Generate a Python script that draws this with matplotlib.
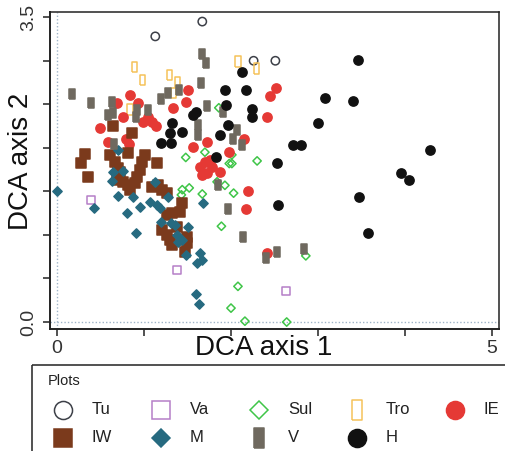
import matplotlib
matplotlib.use("Agg")
import matplotlib.pyplot as plt
from matplotlib.patches import Rectangle
from matplotlib.ticker import FixedLocator, FixedFormatter

plt.rcParams['font.family'] = ['Liberation Sans', 'DejaVu Sans']

# DCA scores, one pair of lists per plot group
tu_x = [1.13, 1.67, 2.26, 2.51]
tu_y = [3.28, 3.45, 3.00, 3.00]

va_x = [0.39, 1.38, 2.63]
va_y = [1.40, 0.60, 0.36]

sul_x = [1.86, 1.48, 1.70, 1.98, 2.01, 2.01, 2.30, 1.44, 1.52, 1.43, 1.67,
         1.84, 1.93, 2.03, 1.89, 2.08, 2.00, 2.16, 2.64, 2.86]
sul_y = [2.46, 1.89, 1.95, 1.82, 1.82, 1.92, 1.85, 1.52, 1.54, 1.46, 1.47,
         1.61, 1.57, 1.48, 1.10, 0.41, 0.16, 0.01, 0.00, 0.76]

tro_x = [0.89, 0.98, 1.29, 1.39, 1.34, 0.84, 2.08, 2.29]
tro_y = [2.93, 2.78, 2.84, 2.75, 2.63, 2.44, 2.99, 2.91]

ie_x = [0.84, 0.69, 0.93, 0.76, 0.49, 1.05, 0.99, 1.09, 1.14, 1.33, 1.48,
        1.51, 0.79, 0.83, 0.59, 1.56, 1.72, 2.15, 1.98, 2.52, 2.45, 2.41,
        1.64, 1.67, 1.70, 1.76, 1.78, 1.72, 1.87, 2.20, 2.17, 2.41]
ie_y = [2.61, 2.51, 2.51, 2.36, 2.23, 2.36, 2.30, 2.30, 2.25, 2.46, 2.53,
        2.67, 2.10, 2.05, 2.07, 2.01, 2.07, 2.10, 1.95, 2.69, 2.60, 2.36,
        1.78, 1.69, 1.84, 1.86, 1.78, 1.71, 1.72, 1.51, 1.30, 0.79]

iw_x = [0.64, 0.86, 0.32, 0.28, 0.36, 0.61, 0.67, 0.70, 0.72, 0.69, 0.76,
        0.82, 0.84, 0.90, 0.92, 0.95, 0.98, 1.01, 0.82, 1.15, 1.09, 1.16,
        1.21, 1.26, 1.26, 1.32, 1.41, 1.44, 1.21, 1.26, 1.30, 1.32, 1.49,
        1.49, 1.47, 1.38]
iw_y = [2.25, 2.17, 1.93, 1.83, 1.67, 1.92, 1.84, 1.77, 1.72, 1.63, 1.61,
        1.57, 1.52, 1.60, 1.67, 1.75, 1.84, 1.92, 1.94, 1.83, 1.55, 1.57,
        1.52, 1.48, 1.23, 1.25, 1.26, 1.37, 1.06, 1.00, 0.94, 0.89, 0.98,
        0.91, 0.80, 1.09]

m_x = [0.00, 0.43, 0.70, 0.64, 0.76, 0.63, 0.70, 0.87, 0.95, 0.80, 0.91,
       1.07, 1.15, 1.13, 1.20, 1.31, 1.28, 1.51, 1.38, 1.44, 1.39, 1.48,
       1.64, 1.61, 1.67, 1.68, 1.60, 1.63, 1.36, 1.18]
m_y = [1.51, 1.31, 1.98, 1.72, 1.74, 1.62, 1.45, 1.43, 1.32, 1.25, 1.02,
       1.38, 1.34, 1.61, 1.15, 1.14, 1.43, 1.09, 1.00, 0.94, 0.92, 0.77,
       0.79, 0.68, 0.71, 1.37, 0.32, 0.21, 1.11, 1.31]

v_x = [0.17, 0.39, 0.63, 0.59, 0.64, 0.92, 0.91, 1.05, 1.20, 1.28, 1.40,
       1.67, 1.71, 1.66, 1.72, 1.91, 1.62, 1.62, 2.07, 2.02, 2.13, 1.85,
       1.97, 2.14, 2.40, 2.53, 2.84, 0.66]
v_y = [2.62, 2.51, 2.53, 2.38, 2.40, 2.44, 2.36, 2.44, 2.56, 2.63, 2.66,
       3.08, 2.98, 2.75, 2.48, 2.41, 2.26, 2.15, 2.21, 2.10, 2.03, 1.57,
       1.30, 0.98, 0.74, 0.80, 0.84, 2.05]

h_x = [2.13, 1.93, 2.17, 1.94, 2.24, 2.24, 1.56, 1.60, 1.32, 1.30, 1.44,
       1.97, 1.87, 1.20, 1.31, 1.83, 3.46, 3.08, 3.40, 3.00, 2.71, 2.80,
       4.29, 2.53, 3.95, 4.05, 3.47, 3.57, 2.54]
h_y = [2.87, 2.67, 2.67, 2.49, 2.45, 2.36, 2.38, 2.41, 2.29, 2.17, 2.18,
       2.26, 2.15, 2.06, 2.06, 1.89, 3.01, 2.57, 2.54, 2.29, 2.03, 2.03,
       1.98, 1.83, 1.71, 1.63, 1.43, 1.02, 1.34]

tall_rect = [(-1, -2), (1, -2), (1, 2), (-1, 2), (-1, -2)]

groups = [
    # label, x, y, marker, face, edge, size, legend size
    ('Tu', tu_x, tu_y, 'o', 'none', '#3d4048', 36, 13),
    ('Va', va_x, va_y, 's', 'none', '#b57ec8', 36, 13),
    ('Sul', sul_x, sul_y, 'D', 'none', '#3fc548', 18, 9),
    ('Tro', tro_x, tro_y, tall_rect, 'none', '#f5c25a', 55, 15),
    ('IE', ie_x, ie_y, 'o', '#e53935', '#e53935', 44, 13),
    ('IW', iw_x, iw_y, 's', '#7b3a1c', '#7b3a1c', 44, 13),
    ('M', m_x, m_y, 'D', '#266a80', '#266a80', 22, 9.5),
    ('V', v_x, v_y, tall_rect, '#6f695f', '#6f695f', 55, 15),
    ('H', h_x, h_y, 'o', '#111111', '#111111', 44, 13),
]

W, H = 506, 451
fig = plt.figure(figsize=(W / 100, H / 100), dpi=100)
ax = fig.add_axes([50 / W, 1 - 329 / H, 449 / W, 317 / H])

ax.axvline(0, color='#9fb4c8', lw=1, ls=(0, (1, 1.5)), zorder=0)
ax.axhline(0, color='#9fb4c8', lw=1, ls=(0, (1, 1.5)), zorder=0)

for lab, xs, ys, mk, fc, ec, s, ls_ in groups:
    ax.scatter(xs, ys, marker=mk, s=s, facecolors=fc, edgecolors=ec,
               linewidths=1.1, zorder=3)

ax.set_xlim(-0.08, 5.08)
ax.set_ylim(-0.08, 3.56)

ax.xaxis.set_major_locator(FixedLocator([0, 1, 2, 3, 4, 5]))
ax.xaxis.set_major_formatter(FixedFormatter(['0', '', '', '', '', '5']))
ax.yaxis.set_major_locator(FixedLocator([0, 0.5, 1, 1.5, 2, 2.5, 3, 3.5]))
ax.yaxis.set_major_formatter(FixedFormatter(['0.0', '', '', '', '', '', '', '3.5']))
ax.tick_params(axis='both', direction='out', length=5, width=1.1,
               colors='#222222', labelsize=14, labelcolor='#333333')
ax.tick_params(axis='x', pad=3)
ax.tick_params(axis='y', pad=4)
for t in ax.get_yticklabels():
    t.set_rotation(90)
    t.set_va('center')

for sp in ax.spines.values():
    sp.set_color('#222222')
    sp.set_linewidth(1.1)
ax.spines['left'].set_linewidth(1.4)
ax.spines['bottom'].set_linewidth(1.4)

ax.set_xlabel('DCA axis 1', fontsize=20, color='#111111')
ax.xaxis.set_label_coords(0.477, -0.02)
ax.set_ylabel('DCA axis 2', fontsize=20, color='#111111')
ax.yaxis.set_label_coords(-0.035, 0.53)

# legend panel below the plot, running off the right and bottom edges
lg = fig.add_axes([0, 0, 1, 1], zorder=-1)
lg.set_xlim(0, W)
lg.set_ylim(H, 0)
lg.axis('off')
lg.add_patch(Rectangle((32, 365), 520, 120, fill=False, ec='#333333', lw=1.2))
lg.text(48, 381, 'Plots', fontsize=10.5, va='center', ha='left', color='#222222')
for i, (lab, xs, ys, mk, fc, ec, s, ms) in enumerate(groups):
    row, col = divmod(i, 5)
    mx = 63 + 98 * col
    my = 410 + 28 * row
    lg.plot([mx], [my], marker=mk, ms=ms, mfc=fc, mec=ec, mew=1.1, ls='none')
    lg.text(mx + 29, my, lab, fontsize=12, va='center', ha='left', color='#222222')

fig.savefig('out.png', dpi=100)
